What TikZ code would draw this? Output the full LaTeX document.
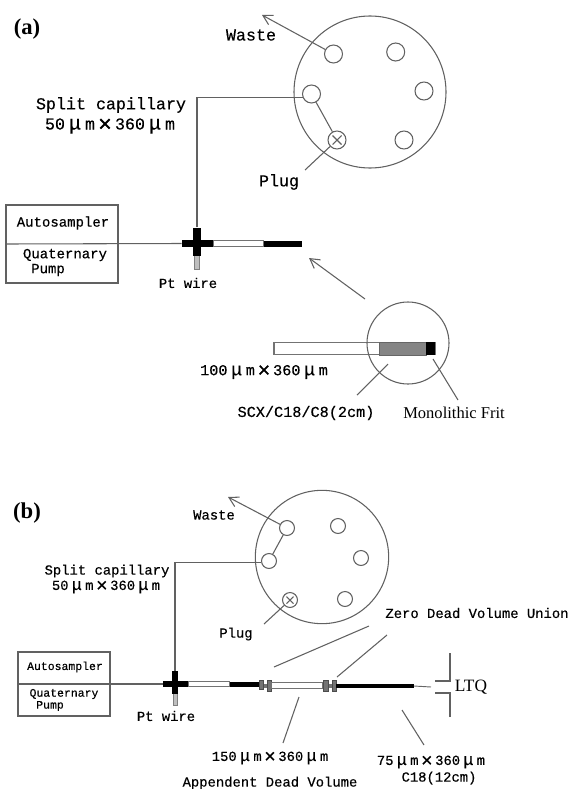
\documentclass[tikz,border=0pt]{standalone}
\usepackage{graphicx}
\usepackage{fontspec}
\setmainfont{Liberation Serif}
\newfontfamily\monof[FakeBold=0.4]{Liberation Mono}
\usetikzlibrary{arrows.meta}
\newcommand{\mmu}{\makebox[1.2em]{\scalebox{1.2}{μ}}m}
\newcommand{\tms}{\makebox[1.2em]{\raisebox{-.13em}{\scalebox{1.4}{×}}}}
\tikzset{
  ln/.style={draw=black!62,line width=.8pt},
  port/.style={circle,draw=black!62,line width=.8pt,inner sep=0pt,fill=white},
  portA/.style={port,minimum size=13.5pt},
  portB/.style={port,minimum size=11.2pt},
  dial/.style={circle,draw=black!62,line width=.8pt,inner sep=0pt},
  boxn/.style={rectangle,draw=black!62,line width=.8pt,inner sep=0pt},
  blk/.style={rectangle,fill=black,inner sep=0pt},
  tube/.style={rectangle,draw=black!55,line width=.9pt,fill=white,inner sep=0pt},
  wire/.style={rectangle,draw=black!50,line width=.7pt,fill=black!25,inner sep=0pt},
  unionp/.style={rectangle,draw=black!70,line width=.5pt,fill=black!55,inner sep=0pt},
  ulink/.style={rectangle,fill=black!55,inner sep=0pt},
  txA/.style={inner sep=0pt,font=\monof\fontsize{12.5}{14}\selectfont,align=center},
  txB/.style={inner sep=0pt,font=\monof\fontsize{10.4}{12}\selectfont,align=center},
  txS/.style={inner sep=0pt,font=\monof\fontsize{10.5}{11}\selectfont,align=center},
  txT/.style={inner sep=0pt,font=\monof\fontsize{8.6}{10}\selectfont,align=center},
  panel/.style={inner sep=0pt,font=\bfseries\fontsize{17}{19}\selectfont},
  barb/.style={-{Straight Barb[length=7pt,width=8pt]}},
}
\begin{document}
\begin{tikzpicture}[x=.75pt,y=-.75pt]
\useasboundingbox (0,0) rectangle (571,789);
% ---------- (a)
\node[panel] (la) at (27,29) {(a)};
\node[dial,minimum size=114pt] (da) at (370,92) {};
\node[portA] (a1) at (333.5,54) {};
\node[portA] (a2) at (395.7,52) {};
\node[portA] (a3) at (424,91) {};
\node[portA] (a4) at (404,140) {};
\node[portA] (a5) at (337,140) {};
\node[portA] (a6) at (311.5,94) {};
\draw[ln] (a5.center) ++(-4.5,-4.5) -- ++(9,9) ++(0,-9) -- ++(-9,9);
\coordinate (wasteA) at (262,15);
\draw[ln,barb] (a1) -- (wasteA);
\draw[ln] (a6) -- (a5);
\coordinate (plugA) at (305,170);
\draw[ln] (a5) -- (plugA);
\node[boxn,minimum width=84pt,minimum height=58.5pt] (pumpA) at (62,244) {};
\node[wire,minimum width=4pt,minimum height=11pt] (ptA) at (197,262) {};
\node[blk,minimum width=23.5pt,minimum height=5.5pt] (chA) at (197.5,243.5) {};
\node[blk,minimum width=6.5pt,minimum height=21.5pt] (cvA) at (197,242) {};
\node[tube,minimum width=38pt,minimum height=4pt] (tbA) at (238.5,243.5) {};
\node[blk,minimum width=28.5pt,minimum height=4.5pt] (bkA) at (283,243.5) {};
\draw[ln] (cvA.north) |- (a6.200);
\draw[ln] (pumpA.west) -- (chA.west);
\node[txA] (tw) at (251,35) {Waste};
\node[txA] (ts) at (111,105) {Split capillary};
\node[txA] (tm) at (110,126) {50\mmu\tms 360\mmu};
\node[txA] (tp) at (279,182) {Plug};
\node[txS] (t1) at (63,223) {Autosampler};
\node[txS] (t2) at (65,255) {Quaternary};
\node[txS] (t3) at (48,270) {Pump};
\node[txB] (t4) at (188,283) {Pt wire};
% inset
\node[tube,minimum width=120.75pt,minimum height=9.5pt] (inT) at (354.5,348.5) {};
\node[rectangle,fill=black!48,draw=black!60,line width=.5pt,inner sep=0pt,minimum width=35pt,minimum height=9.5pt] (inG) at (402.5,348.5) {};
\node[blk,minimum width=6.75pt,minimum height=9.5pt] (inB) at (430.5,348.5) {};
\node[dial,minimum size=61.5pt] (inC) at (408,343) {};
\coordinate (arS) at (365,299);
\coordinate (arE) at (309,258);
\draw[ln,barb] (arS) -- (arE);
\coordinate (l1a) at (388,364); \coordinate (l1b) at (357,395);
\coordinate (l2a) at (433,359); \coordinate (l2b) at (458,400);
\draw[ln] (l1a) -- (l1b);
\draw[ln] (l2a) -- (l2b);
\node[txA,font=\monof\fontsize{11.4}{14}\selectfont] (t5) at (264,372) {100\mmu\tms 360\mmu};
\node[txA,font=\monof\fontsize{11.4}{14}\selectfont] (t6) at (306,413) {SCX/C18/C8(2cm)};
\node[inner sep=0pt,font=\fontsize{12.4}{14}\selectfont] (t7) at (454,413) {Monolithic Frit};
% ---------- (b)
\node[panel] (lb) at (27,513) {(b)};
\node[dial,minimum size=100pt] (db) at (322,557) {};
\node[portB] (b1) at (287,528) {};
\node[portB] (b2) at (338,526) {};
\node[portB] (b3) at (361,558) {};
\node[portB] (b4) at (345,599) {};
\node[portB] (b5) at (290,600) {};
\node[portB] (b6) at (269,561) {};
\draw[ln] (b5.center) ++(-3.5,-3.5) -- ++(7,7) ++(0,-7) -- ++(-7,7);
\coordinate (wasteB) at (228,497);
\draw[ln,barb] (b1) -- (wasteB);
\draw[ln] (b1) -- (b6);
\coordinate (plugB) at (264,624);
\draw[ln] (b5) -- (plugB);
\node[boxn,minimum width=69pt,minimum height=48pt] (pumpB) at (64,684) {};
\node[wire,minimum width=3pt,minimum height=9pt] (ptB) at (175.5,699) {};
\node[blk,minimum width=19pt,minimum height=4.5pt] (chB) at (175.5,684) {};
\node[blk,minimum width=5pt,minimum height=17.5pt] (cvB) at (175,682.5) {};
\node[tube,minimum width=31pt,minimum height=3.5pt] (tbB) at (209,684) {};
\node[blk,minimum width=22.5pt,minimum height=3.5pt] (bkB) at (245,684.5) {};
\node[ulink,minimum width=9pt,minimum height=3pt] (ul1) at (265,685.5) {};
\node[unionp,minimum width=3pt,minimum height=7pt] (u1) at (261,685) {};
\node[unionp,minimum width=3pt,minimum height=8pt] (u2) at (269,685.5) {};
\node[tube,minimum width=38.5pt,minimum height=5pt] (tb2) at (297,685.5) {};
\node[ulink,minimum width=9pt,minimum height=3pt] (ul2) at (330,685.5) {};
\node[unionp,minimum width=3.5pt,minimum height=8pt] (u3) at (326,685.5) {};
\node[unionp,minimum width=3pt,minimum height=8pt] (u4) at (334,685.5) {};
\node[blk,minimum width=58pt,minimum height=2.8pt] (bk2) at (375,686) {};
\coordinate (tip) at (431,687);
\draw[black!60,line width=.7pt] (bk2.east) -- (tip);
\draw[ln] (cvB.north) |- (b6.190);
\draw[ln] (pumpB.west) -- (chB.west);
\coordinate (ltqA) at (450,653); \coordinate (ltqB) at (450,681); \coordinate (ltqC) at (435,681);
\coordinate (ltqD) at (450,717); \coordinate (ltqE) at (450,693); \coordinate (ltqF) at (435,693);
\draw[ln] (ltqA) -- (ltqB) -- (ltqC);
\draw[ln] (ltqD) -- (ltqE) -- (ltqF);
\coordinate (z1a) at (274,667); \coordinate (z1b) at (369,626);
\coordinate (z2a) at (337,677); \coordinate (z2b) at (387,635);
\coordinate (z3a) at (299,697); \coordinate (z3b) at (283,743);
\coordinate (z4a) at (402,710); \coordinate (z4b) at (424,745);
\draw[ln] (z1a) -- (z1b);
\draw[ln] (z2a) -- (z2b);
\draw[ln] (z3a) -- (z3b);
\draw[ln] (z4a) -- (z4b);
\node[txB] (b_w) at (214,515) {Waste};
\node[txB] (b_s) at (107,571) {Split capillary};
\node[txB] (b_m) at (106,587) {50\mmu\tms 360\mmu};
\node[txB] (b_p) at (236,634) {Plug};
\node[txT] (b_a) at (65,667) {Autosampler};
\node[txT] (b_q) at (64,694) {Quaternary};
\node[txT] (b_u) at (50,706) {Pump};
\node[txB] (b_t) at (166,716) {Pt wire};
\node[txB] (b_z) at (477,613) {Zero Dead Volume Union};
\node[inner sep=0pt,font=\fontsize{13}{15}\selectfont] (b_l) at (471,687) {LTQ};
\node[txB] (b_d1) at (270,758) {150\mmu\tms 360\mmu};
\node[txB] (b_d2) at (270,783) {Appendent Dead Volume};
\node[txB] (b_c1) at (431,762) {75\mmu\tms 360\mmu};
\node[txB] (b_c2) at (439,778) {C18(12cm)};
\end{tikzpicture}
\end{document}
